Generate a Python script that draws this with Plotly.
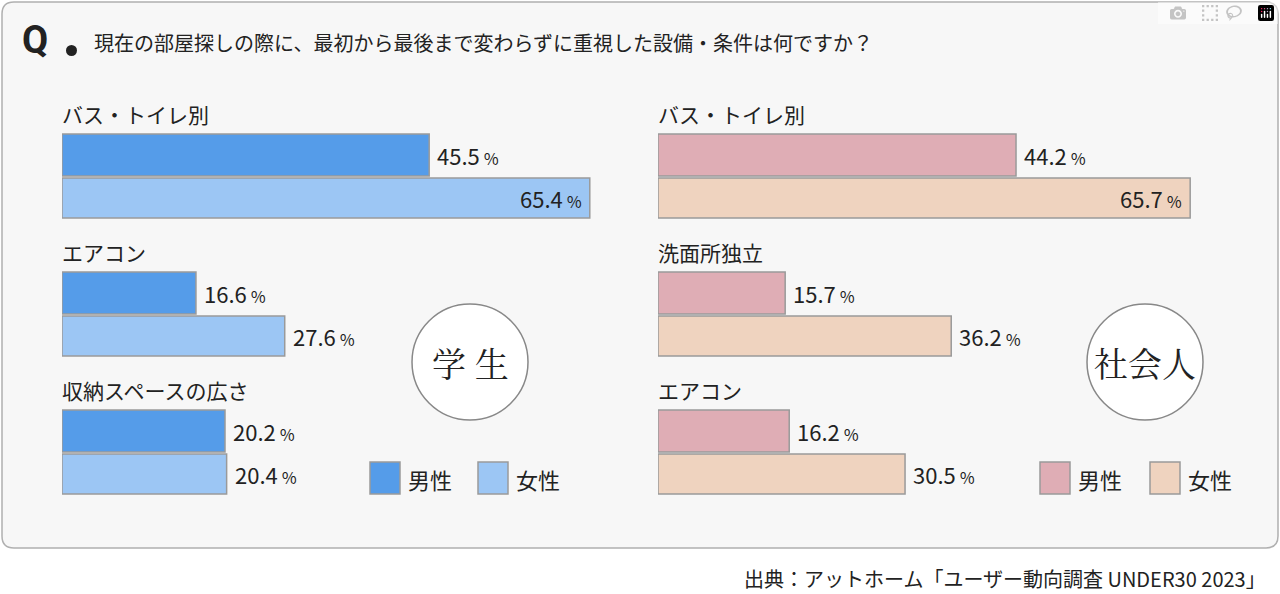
import plotly.graph_objects as go

W, H = 1280, 594
FONT = "Noto Sans CJK JP"

student_items = ["バス・トイレ別", "エアコン", "収納スペースの広さ"]
student_male = [45.5, 16.6, 20.2]
student_female = [65.4, 27.6, 20.4]

worker_items = ["バス・トイレ別", "洗面所独立", "エアコン"]
worker_male = [44.2, 15.7, 16.2]
worker_female = [65.7, 36.2, 30.5]

title = "現在の部屋探しの際に、最初から最後まで変わらずに重視した設備・条件は何ですか？"
source = "出典：アットホーム「ユーザー動向調査 UNDER30 2023」"

male_c = ["#559ce9", "#dfadb5"]
female_c = ["#9cc6f4", "#efd3bf"]

def px(x):
    return x / W

def py(y):
    return 1 - y / H

fig = go.Figure()
shapes, ann = [], []

shapes.append(dict(type="path", xref="paper", yref="paper",
                   path=f"M {px(14)},{py(2)} L {px(1266)},{py(2)} Q {px(1278)},{py(2)} {px(1278)},{py(14)} "
                        f"L {px(1278)},{py(536)} Q {px(1278)},{py(548)} {px(1266)},{py(548)} "
                        f"L {px(14)},{py(548)} Q {px(2)},{py(548)} {px(2)},{py(536)} "
                        f"L {px(2)},{py(14)} Q {px(2)},{py(2)} {px(14)},{py(2)} Z",
                   fillcolor="#f7f7f7", line=dict(color="#b0b0b0", width=1.5), layer="below"))

panels = [("x", student_items, student_male, student_female, 0),
          ("x2", worker_items, worker_male, worker_female, 1)]
for xa, items, m, f, k in panels:
    ym = [155 + i * 138 for i in range(3)]
    yf = [198 + i * 138 for i in range(3)]
    fig.add_trace(go.Bar(x=m, y=ym, orientation="h", width=42, xaxis=xa, yaxis="y",
                         marker=dict(color=male_c[k], line=dict(color="#9a9a9a", width=1.5)),
                         showlegend=False, hoverinfo="skip"))
    fig.add_trace(go.Bar(x=f, y=yf, orientation="h", width=40, xaxis=xa, yaxis="y",
                         marker=dict(color=female_c[k], line=dict(color="#9a9a9a", width=1.5)),
                         showlegend=False, hoverinfo="skip"))
    for i in range(3):
        ann.append(dict(x=0, y=114 + i * 138, xref=xa, yref="y", text=items[i], showarrow=False,
                        xanchor="left", yanchor="middle", xshift=-2, font=dict(size=21, color="#222")))
        for v, y in ((m[i], ym[i]), (f[i], yf[i])):
            inside = v > 60
            ann.append(dict(x=v, y=y, xref=xa, yref="y", showarrow=False,
                            text=f"{v:.1f}<span style='font-size:16px'> ％</span>",
                            xanchor="right" if inside else "left", yanchor="middle",
                            xshift=-6 if inside else 6, font=dict(size=22, color="#222")))

# circles
for cx, label in ((470, "学 生"), (1145, "社会人")):
    shapes.append(dict(type="circle", xref="paper", yref="paper",
                       x0=px(cx - 58), x1=px(cx + 58), y0=py(420), y1=py(304),
                       fillcolor="white", line=dict(color="#888", width=1.5)))
    ann.append(dict(x=px(cx), y=py(362), xref="paper", yref="paper", text=label, showarrow=False,
                    xanchor="center", yanchor="middle",
                    font=dict(size=34, color="#222", family="Noto Serif CJK JP, " + FONT)))

# legends
for k, (x1, x2) in enumerate(((370, 478), (1040, 1150))):
    for x0, col, lab in ((x1, male_c[k], "男性"), (x2, female_c[k], "女性")):
        shapes.append(dict(type="rect", xref="paper", yref="paper", x0=px(x0), x1=px(x0 + 30),
                           y0=py(494), y1=py(462), fillcolor=col, line=dict(color="#9a9a9a", width=1.5)))
        ann.append(dict(x=px(x0 + 36), y=py(479), xref="paper", yref="paper", text=lab,
                        showarrow=False, xanchor="left", yanchor="middle",
                        font=dict(size=22, color="#222")))

ann.append(dict(x=px(20), y=py(40), xref="paper", yref="paper", text="<b>Q</b>", showarrow=False,
                xanchor="left", yanchor="middle", font=dict(size=38, color="#222", family="Roboto")))
shapes.append(dict(type="circle", xref="paper", yref="paper", x0=px(66), x1=px(77), y0=py(56), y1=py(45),
                   fillcolor="#222", line=dict(width=0)))
ann.append(dict(x=px(92), y=py(42), xref="paper", yref="paper", text=title, showarrow=False,
                xanchor="left", yanchor="middle", font=dict(size=20, color="#222")))
ann.append(dict(x=px(1268), y=py(578), xref="paper", yref="paper", text=source, showarrow=False,
                xanchor="right", yanchor="middle", font=dict(size=20, color="#222")))

fig.update_layout(
    width=W, height=H, margin=dict(l=0, r=0, t=0, b=0),
    paper_bgcolor="white", plot_bgcolor="rgba(0,0,0,0)",
    font=dict(family=FONT), barmode="overlay",
    xaxis=dict(domain=[px(62), px(62 + 70 * 8.07)], range=[0, 70], visible=False, fixedrange=True),
    xaxis2=dict(domain=[px(658), px(658 + 70 * 8.1)], range=[0, 70], visible=False, fixedrange=True),
    yaxis=dict(domain=[0, 1], range=[H, 0], visible=False, fixedrange=True),
    shapes=shapes, annotations=ann,
)
fig.write_html("out.html", post_script="document.body.style.margin='0';")
